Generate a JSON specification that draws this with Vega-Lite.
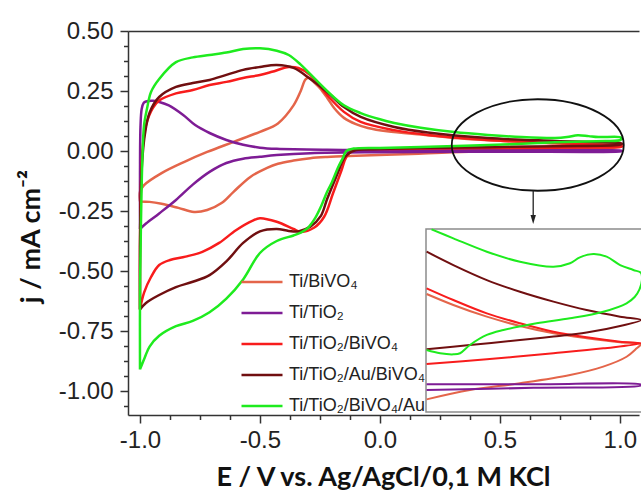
{
  "$schema": "https://vega.github.io/schema/vega-lite/v6.json",
  "width": 511,
  "height": 384,
  "autosize": "none",
  "padding": {"left": 128, "top": 31, "right": 2, "bottom": 81},
  "config": {"view": {"stroke": null}, "font": "Liberation Sans"},
  "datasets": {
    "cv": [
      {"s":"Ti/BiVO₄","o":1,"x":-1.0,"y":-0.21},{"s":"Ti/BiVO₄","o":2,"x":-1.0,"y":-0.17},{"s":"Ti/BiVO₄","o":3,"x":-0.983,"y":-0.142},{"s":"Ti/BiVO₄","o":4,"x":-0.91,"y":-0.092},{"s":"Ti/BiVO₄","o":5,"x":-0.817,"y":-0.046},{"s":"Ti/BiVO₄","o":6,"x":-0.72,"y":-0.004},{"s":"Ti/BiVO₄","o":7,"x":-0.61,"y":0.038},{"s":"Ti/BiVO₄","o":8,"x":-0.5,"y":0.08},{"s":"Ti/BiVO₄","o":9,"x":-0.425,"y":0.115},{"s":"Ti/BiVO₄","o":10,"x":-0.36,"y":0.19},{"s":"Ti/BiVO₄","o":11,"x":-0.33,"y":0.25},{"s":"Ti/BiVO₄","o":12,"x":-0.31,"y":0.298},{"s":"Ti/BiVO₄","o":13,"x":-0.295,"y":0.305},{"s":"Ti/BiVO₄","o":14,"x":-0.275,"y":0.287},{"s":"Ti/BiVO₄","o":15,"x":-0.25,"y":0.262},{"s":"Ti/BiVO₄","o":16,"x":-0.22,"y":0.222},{"s":"Ti/BiVO₄","o":17,"x":-0.19,"y":0.178},{"s":"Ti/BiVO₄","o":18,"x":-0.15,"y":0.138},{"s":"Ti/BiVO₄","o":19,"x":-0.1,"y":0.112},{"s":"Ti/BiVO₄","o":20,"x":-0.05,"y":0.096},{"s":"Ti/BiVO₄","o":21,"x":0.03,"y":0.082},{"s":"Ti/BiVO₄","o":22,"x":0.2,"y":0.066},{"s":"Ti/BiVO₄","o":23,"x":0.31,"y":0.054},{"s":"Ti/BiVO₄","o":24,"x":0.59,"y":0.038},{"s":"Ti/BiVO₄","o":25,"x":0.85,"y":0.029},{"s":"Ti/BiVO₄","o":26,"x":1.0,"y":0.025},{"s":"Ti/BiVO₄","o":27,"x":1.01,"y":0.021},{"s":"Ti/BiVO₄","o":28,"x":1.0,"y":0.017},{"s":"Ti/BiVO₄","o":29,"x":0.9,"y":0.01},{"s":"Ti/BiVO₄","o":30,"x":0.75,"y":0.005},{"s":"Ti/BiVO₄","o":31,"x":0.59,"y":0.002},{"s":"Ti/BiVO₄","o":32,"x":0.3,"y":-0.005},{"s":"Ti/BiVO₄","o":33,"x":0.13,"y":-0.012},{"s":"Ti/BiVO₄","o":34,"x":-0.1,"y":-0.02},{"s":"Ti/BiVO₄","o":35,"x":-0.22,"y":-0.025},{"s":"Ti/BiVO₄","o":36,"x":-0.29,"y":-0.03},{"s":"Ti/BiVO₄","o":37,"x":-0.36,"y":-0.04},{"s":"Ti/BiVO₄","o":38,"x":-0.425,"y":-0.053},{"s":"Ti/BiVO₄","o":39,"x":-0.47,"y":-0.07},{"s":"Ti/BiVO₄","o":40,"x":-0.54,"y":-0.108},{"s":"Ti/BiVO₄","o":41,"x":-0.61,"y":-0.17},{"s":"Ti/BiVO₄","o":42,"x":-0.66,"y":-0.217},{"s":"Ti/BiVO₄","o":43,"x":-0.72,"y":-0.246},{"s":"Ti/BiVO₄","o":44,"x":-0.775,"y":-0.254},{"s":"Ti/BiVO₄","o":45,"x":-0.84,"y":-0.237},{"s":"Ti/BiVO₄","o":46,"x":-0.91,"y":-0.22},{"s":"Ti/BiVO₄","o":47,"x":-0.96,"y":-0.212},{"s":"Ti/BiVO₄","o":48,"x":-1.0,"y":-0.21},
      {"s":"Ti/TiO₂","o":1,"x":-1.0,"y":-0.325},{"s":"Ti/TiO₂","o":2,"x":-1.0,"y":-0.1},{"s":"Ti/TiO₂","o":3,"x":-0.998,"y":0.1},{"s":"Ti/TiO₂","o":4,"x":-0.993,"y":0.175},{"s":"Ti/TiO₂","o":5,"x":-0.985,"y":0.2},{"s":"Ti/TiO₂","o":6,"x":-0.975,"y":0.206},{"s":"Ti/TiO₂","o":7,"x":-0.946,"y":0.209},{"s":"Ti/TiO₂","o":8,"x":-0.92,"y":0.204},{"s":"Ti/TiO₂","o":9,"x":-0.88,"y":0.19},{"s":"Ti/TiO₂","o":10,"x":-0.82,"y":0.15},{"s":"Ti/TiO₂","o":11,"x":-0.77,"y":0.108},{"s":"Ti/TiO₂","o":12,"x":-0.71,"y":0.075},{"s":"Ti/TiO₂","o":13,"x":-0.64,"y":0.046},{"s":"Ti/TiO₂","o":14,"x":-0.57,"y":0.026},{"s":"Ti/TiO₂","o":15,"x":-0.5,"y":0.014},{"s":"Ti/TiO₂","o":16,"x":-0.43,"y":0.009},{"s":"Ti/TiO₂","o":17,"x":-0.22,"y":0.005},{"s":"Ti/TiO₂","o":18,"x":0.0,"y":0.004},{"s":"Ti/TiO₂","o":19,"x":0.5,"y":0.003},{"s":"Ti/TiO₂","o":20,"x":1.0,"y":0.002},{"s":"Ti/TiO₂","o":21,"x":1.01,"y":0.0},{"s":"Ti/TiO₂","o":22,"x":1.0,"y":-0.002},{"s":"Ti/TiO₂","o":23,"x":0.5,"y":-0.003},{"s":"Ti/TiO₂","o":24,"x":0.0,"y":-0.005},{"s":"Ti/TiO₂","o":25,"x":-0.29,"y":-0.009},{"s":"Ti/TiO₂","o":26,"x":-0.43,"y":-0.017},{"s":"Ti/TiO₂","o":27,"x":-0.5,"y":-0.024},{"s":"Ti/TiO₂","o":28,"x":-0.57,"y":-0.032},{"s":"Ti/TiO₂","o":29,"x":-0.64,"y":-0.05},{"s":"Ti/TiO₂","o":30,"x":-0.71,"y":-0.087},{"s":"Ti/TiO₂","o":31,"x":-0.78,"y":-0.14},{"s":"Ti/TiO₂","o":32,"x":-0.85,"y":-0.204},{"s":"Ti/TiO₂","o":33,"x":-0.92,"y":-0.26},{"s":"Ti/TiO₂","o":34,"x":-0.975,"y":-0.302},{"s":"Ti/TiO₂","o":35,"x":-1.0,"y":-0.325},
      {"s":"Ti/TiO₂/BiVO₄","o":1,"x":-1.0,"y":-0.66},{"s":"Ti/TiO₂/BiVO₄","o":2,"x":-1.0,"y":-0.4},{"s":"Ti/TiO₂/BiVO₄","o":3,"x":-0.996,"y":-0.15},{"s":"Ti/TiO₂/BiVO₄","o":4,"x":-0.99,"y":0.0},{"s":"Ti/TiO₂/BiVO₄","o":5,"x":-0.975,"y":0.108},{"s":"Ti/TiO₂/BiVO₄","o":6,"x":-0.946,"y":0.18},{"s":"Ti/TiO₂/BiVO₄","o":7,"x":-0.92,"y":0.21},{"s":"Ti/TiO₂/BiVO₄","o":8,"x":-0.85,"y":0.24},{"s":"Ti/TiO₂/BiVO₄","o":9,"x":-0.78,"y":0.254},{"s":"Ti/TiO₂/BiVO₄","o":10,"x":-0.71,"y":0.275},{"s":"Ti/TiO₂/BiVO₄","o":11,"x":-0.64,"y":0.288},{"s":"Ti/TiO₂/BiVO₄","o":12,"x":-0.57,"y":0.304},{"s":"Ti/TiO₂/BiVO₄","o":13,"x":-0.5,"y":0.317},{"s":"Ti/TiO₂/BiVO₄","o":14,"x":-0.45,"y":0.33},{"s":"Ti/TiO₂/BiVO₄","o":15,"x":-0.38,"y":0.35},{"s":"Ti/TiO₂/BiVO₄","o":16,"x":-0.34,"y":0.346},{"s":"Ti/TiO₂/BiVO₄","o":17,"x":-0.29,"y":0.317},{"s":"Ti/TiO₂/BiVO₄","o":18,"x":-0.22,"y":0.233},{"s":"Ti/TiO₂/BiVO₄","o":19,"x":-0.15,"y":0.163},{"s":"Ti/TiO₂/BiVO₄","o":20,"x":-0.08,"y":0.121},{"s":"Ti/TiO₂/BiVO₄","o":21,"x":0.06,"y":0.087},{"s":"Ti/TiO₂/BiVO₄","o":22,"x":0.2,"y":0.067},{"s":"Ti/TiO₂/BiVO₄","o":23,"x":0.45,"y":0.046},{"s":"Ti/TiO₂/BiVO₄","o":24,"x":0.73,"y":0.033},{"s":"Ti/TiO₂/BiVO₄","o":25,"x":1.0,"y":0.021},{"s":"Ti/TiO₂/BiVO₄","o":26,"x":1.01,"y":0.019},{"s":"Ti/TiO₂/BiVO₄","o":27,"x":1.0,"y":0.017},{"s":"Ti/TiO₂/BiVO₄","o":28,"x":0.73,"y":0.014},{"s":"Ti/TiO₂/BiVO₄","o":29,"x":0.45,"y":0.012},{"s":"Ti/TiO₂/BiVO₄","o":30,"x":0.17,"y":0.01},{"s":"Ti/TiO₂/BiVO₄","o":31,"x":0.0,"y":0.008},{"s":"Ti/TiO₂/BiVO₄","o":32,"x":-0.11,"y":0.004},{"s":"Ti/TiO₂/BiVO₄","o":33,"x":-0.14,"y":-0.025},{"s":"Ti/TiO₂/BiVO₄","o":34,"x":-0.16,"y":-0.08},{"s":"Ti/TiO₂/BiVO₄","o":35,"x":-0.195,"y":-0.175},{"s":"Ti/TiO₂/BiVO₄","o":36,"x":-0.233,"y":-0.275},{"s":"Ti/TiO₂/BiVO₄","o":37,"x":-0.275,"y":-0.32},{"s":"Ti/TiO₂/BiVO₄","o":38,"x":-0.33,"y":-0.337},{"s":"Ti/TiO₂/BiVO₄","o":39,"x":-0.36,"y":-0.325},{"s":"Ti/TiO₂/BiVO₄","o":40,"x":-0.43,"y":-0.295},{"s":"Ti/TiO₂/BiVO₄","o":41,"x":-0.5,"y":-0.28},{"s":"Ti/TiO₂/BiVO₄","o":42,"x":-0.53,"y":-0.29},{"s":"Ti/TiO₂/BiVO₄","o":43,"x":-0.6,"y":-0.33},{"s":"Ti/TiO₂/BiVO₄","o":44,"x":-0.67,"y":-0.383},{"s":"Ti/TiO₂/BiVO₄","o":45,"x":-0.74,"y":-0.42},{"s":"Ti/TiO₂/BiVO₄","o":46,"x":-0.81,"y":-0.44},{"s":"Ti/TiO₂/BiVO₄","o":47,"x":-0.875,"y":-0.454},{"s":"Ti/TiO₂/BiVO₄","o":48,"x":-0.92,"y":-0.475},{"s":"Ti/TiO₂/BiVO₄","o":49,"x":-0.954,"y":-0.525},{"s":"Ti/TiO₂/BiVO₄","o":50,"x":-0.983,"y":-0.59},{"s":"Ti/TiO₂/BiVO₄","o":51,"x":-1.0,"y":-0.66},
      {"s":"Ti/TiO₂/Au/BiVO₄","o":1,"x":-1.0,"y":-0.66},{"s":"Ti/TiO₂/Au/BiVO₄","o":2,"x":-1.0,"y":-0.4},{"s":"Ti/TiO₂/Au/BiVO₄","o":3,"x":-0.996,"y":-0.15},{"s":"Ti/TiO₂/Au/BiVO₄","o":4,"x":-0.99,"y":-0.03},{"s":"Ti/TiO₂/Au/BiVO₄","o":5,"x":-0.98,"y":0.067},{"s":"Ti/TiO₂/Au/BiVO₄","o":6,"x":-0.96,"y":0.16},{"s":"Ti/TiO₂/Au/BiVO₄","o":7,"x":-0.92,"y":0.225},{"s":"Ti/TiO₂/Au/BiVO₄","o":8,"x":-0.85,"y":0.267},{"s":"Ti/TiO₂/Au/BiVO₄","o":9,"x":-0.78,"y":0.283},{"s":"Ti/TiO₂/Au/BiVO₄","o":10,"x":-0.71,"y":0.296},{"s":"Ti/TiO₂/Au/BiVO₄","o":11,"x":-0.64,"y":0.317},{"s":"Ti/TiO₂/Au/BiVO₄","o":12,"x":-0.57,"y":0.338},{"s":"Ti/TiO₂/Au/BiVO₄","o":13,"x":-0.5,"y":0.35},{"s":"Ti/TiO₂/Au/BiVO₄","o":14,"x":-0.43,"y":0.358},{"s":"Ti/TiO₂/Au/BiVO₄","o":15,"x":-0.36,"y":0.346},{"s":"Ti/TiO₂/Au/BiVO₄","o":16,"x":-0.29,"y":0.3},{"s":"Ti/TiO₂/Au/BiVO₄","o":17,"x":-0.22,"y":0.246},{"s":"Ti/TiO₂/Au/BiVO₄","o":18,"x":-0.15,"y":0.183},{"s":"Ti/TiO₂/Au/BiVO₄","o":19,"x":-0.08,"y":0.142},{"s":"Ti/TiO₂/Au/BiVO₄","o":20,"x":0.06,"y":0.1},{"s":"Ti/TiO₂/Au/BiVO₄","o":21,"x":0.2,"y":0.077},{"s":"Ti/TiO₂/Au/BiVO₄","o":22,"x":0.45,"y":0.054},{"s":"Ti/TiO₂/Au/BiVO₄","o":23,"x":0.73,"y":0.042},{"s":"Ti/TiO₂/Au/BiVO₄","o":24,"x":1.0,"y":0.033},{"s":"Ti/TiO₂/Au/BiVO₄","o":25,"x":1.01,"y":0.03},{"s":"Ti/TiO₂/Au/BiVO₄","o":26,"x":1.0,"y":0.026},{"s":"Ti/TiO₂/Au/BiVO₄","o":27,"x":0.73,"y":0.02},{"s":"Ti/TiO₂/Au/BiVO₄","o":28,"x":0.45,"y":0.016},{"s":"Ti/TiO₂/Au/BiVO₄","o":29,"x":0.17,"y":0.012},{"s":"Ti/TiO₂/Au/BiVO₄","o":30,"x":0.0,"y":0.008},{"s":"Ti/TiO₂/Au/BiVO₄","o":31,"x":-0.1,"y":0.004},{"s":"Ti/TiO₂/Au/BiVO₄","o":32,"x":-0.13,"y":-0.01},{"s":"Ti/TiO₂/Au/BiVO₄","o":33,"x":-0.15,"y":-0.03},{"s":"Ti/TiO₂/Au/BiVO₄","o":34,"x":-0.175,"y":-0.09},{"s":"Ti/TiO₂/Au/BiVO₄","o":35,"x":-0.22,"y":-0.2},{"s":"Ti/TiO₂/Au/BiVO₄","o":36,"x":-0.246,"y":-0.27},{"s":"Ti/TiO₂/Au/BiVO₄","o":37,"x":-0.29,"y":-0.315},{"s":"Ti/TiO₂/Au/BiVO₄","o":38,"x":-0.34,"y":-0.335},{"s":"Ti/TiO₂/Au/BiVO₄","o":39,"x":-0.38,"y":-0.333},{"s":"Ti/TiO₂/Au/BiVO₄","o":40,"x":-0.43,"y":-0.325},{"s":"Ti/TiO₂/Au/BiVO₄","o":41,"x":-0.5,"y":-0.335},{"s":"Ti/TiO₂/Au/BiVO₄","o":42,"x":-0.57,"y":-0.383},{"s":"Ti/TiO₂/Au/BiVO₄","o":43,"x":-0.64,"y":-0.46},{"s":"Ti/TiO₂/Au/BiVO₄","o":44,"x":-0.71,"y":-0.517},{"s":"Ti/TiO₂/Au/BiVO₄","o":45,"x":-0.78,"y":-0.545},{"s":"Ti/TiO₂/Au/BiVO₄","o":46,"x":-0.85,"y":-0.567},{"s":"Ti/TiO₂/Au/BiVO₄","o":47,"x":-0.92,"y":-0.6},{"s":"Ti/TiO₂/Au/BiVO₄","o":48,"x":-0.975,"y":-0.633},{"s":"Ti/TiO₂/Au/BiVO₄","o":49,"x":-1.0,"y":-0.66},
      {"s":"Ti/TiO₂/BiVO₄/Au","o":1,"x":-1.0,"y":-0.91},{"s":"Ti/TiO₂/BiVO₄/Au","o":2,"x":-1.0,"y":-0.6},{"s":"Ti/TiO₂/BiVO₄/Au","o":3,"x":-0.996,"y":-0.3},{"s":"Ti/TiO₂/BiVO₄/Au","o":4,"x":-0.99,"y":-0.03},{"s":"Ti/TiO₂/BiVO₄/Au","o":5,"x":-0.983,"y":0.108},{"s":"Ti/TiO₂/BiVO₄/Au","o":6,"x":-0.97,"y":0.18},{"s":"Ti/TiO₂/BiVO₄/Au","o":7,"x":-0.954,"y":0.246},{"s":"Ti/TiO₂/BiVO₄/Au","o":8,"x":-0.92,"y":0.3},{"s":"Ti/TiO₂/BiVO₄/Au","o":9,"x":-0.85,"y":0.37},{"s":"Ti/TiO₂/BiVO₄/Au","o":10,"x":-0.78,"y":0.39},{"s":"Ti/TiO₂/BiVO₄/Au","o":11,"x":-0.71,"y":0.4},{"s":"Ti/TiO₂/BiVO₄/Au","o":12,"x":-0.64,"y":0.41},{"s":"Ti/TiO₂/BiVO₄/Au","o":13,"x":-0.57,"y":0.425},{"s":"Ti/TiO₂/BiVO₄/Au","o":14,"x":-0.5,"y":0.428},{"s":"Ti/TiO₂/BiVO₄/Au","o":15,"x":-0.43,"y":0.418},{"s":"Ti/TiO₂/BiVO₄/Au","o":16,"x":-0.38,"y":0.4},{"s":"Ti/TiO₂/BiVO₄/Au","o":17,"x":-0.33,"y":0.36},{"s":"Ti/TiO₂/BiVO₄/Au","o":18,"x":-0.29,"y":0.32},{"s":"Ti/TiO₂/BiVO₄/Au","o":19,"x":-0.22,"y":0.25},{"s":"Ti/TiO₂/BiVO₄/Au","o":20,"x":-0.15,"y":0.19},{"s":"Ti/TiO₂/BiVO₄/Au","o":21,"x":-0.08,"y":0.158},{"s":"Ti/TiO₂/BiVO₄/Au","o":22,"x":0.0,"y":0.132},{"s":"Ti/TiO₂/BiVO₄/Au","o":23,"x":0.06,"y":0.117},{"s":"Ti/TiO₂/BiVO₄/Au","o":24,"x":0.17,"y":0.097},{"s":"Ti/TiO₂/BiVO₄/Au","o":25,"x":0.31,"y":0.079},{"s":"Ti/TiO₂/BiVO₄/Au","o":26,"x":0.45,"y":0.067},{"s":"Ti/TiO₂/BiVO₄/Au","o":27,"x":0.59,"y":0.058},{"s":"Ti/TiO₂/BiVO₄/Au","o":28,"x":0.73,"y":0.054},{"s":"Ti/TiO₂/BiVO₄/Au","o":29,"x":0.78,"y":0.058},{"s":"Ti/TiO₂/BiVO₄/Au","o":30,"x":0.825,"y":0.066},{"s":"Ti/TiO₂/BiVO₄/Au","o":31,"x":0.87,"y":0.062},{"s":"Ti/TiO₂/BiVO₄/Au","o":32,"x":0.91,"y":0.058},{"s":"Ti/TiO₂/BiVO₄/Au","o":33,"x":1.0,"y":0.058},{"s":"Ti/TiO₂/BiVO₄/Au","o":34,"x":1.01,"y":0.052},{"s":"Ti/TiO₂/BiVO₄/Au","o":35,"x":1.0,"y":0.045},{"s":"Ti/TiO₂/BiVO₄/Au","o":36,"x":0.9,"y":0.041},{"s":"Ti/TiO₂/BiVO₄/Au","o":37,"x":0.73,"y":0.036},{"s":"Ti/TiO₂/BiVO₄/Au","o":38,"x":0.45,"y":0.025},{"s":"Ti/TiO₂/BiVO₄/Au","o":39,"x":0.17,"y":0.017},{"s":"Ti/TiO₂/BiVO₄/Au","o":40,"x":0.0,"y":0.013},{"s":"Ti/TiO₂/BiVO₄/Au","o":41,"x":-0.11,"y":0.01},{"s":"Ti/TiO₂/BiVO₄/Au","o":42,"x":-0.14,"y":0.0},{"s":"Ti/TiO₂/BiVO₄/Au","o":43,"x":-0.155,"y":-0.03},{"s":"Ti/TiO₂/BiVO₄/Au","o":44,"x":-0.175,"y":-0.07},{"s":"Ti/TiO₂/BiVO₄/Au","o":45,"x":-0.2,"y":-0.13},{"s":"Ti/TiO₂/BiVO₄/Au","o":46,"x":-0.22,"y":-0.17},{"s":"Ti/TiO₂/BiVO₄/Au","o":47,"x":-0.245,"y":-0.23},{"s":"Ti/TiO₂/BiVO₄/Au","o":48,"x":-0.27,"y":-0.28},{"s":"Ti/TiO₂/BiVO₄/Au","o":49,"x":-0.3,"y":-0.32},{"s":"Ti/TiO₂/BiVO₄/Au","o":50,"x":-0.33,"y":-0.34},{"s":"Ti/TiO₂/BiVO₄/Au","o":51,"x":-0.36,"y":-0.352},{"s":"Ti/TiO₂/BiVO₄/Au","o":52,"x":-0.43,"y":-0.375},{"s":"Ti/TiO₂/BiVO₄/Au","o":53,"x":-0.5,"y":-0.425},{"s":"Ti/TiO₂/BiVO₄/Au","o":54,"x":-0.57,"y":-0.535},{"s":"Ti/TiO₂/BiVO₄/Au","o":55,"x":-0.64,"y":-0.615},{"s":"Ti/TiO₂/BiVO₄/Au","o":56,"x":-0.71,"y":-0.672},{"s":"Ti/TiO₂/BiVO₄/Au","o":57,"x":-0.78,"y":-0.708},{"s":"Ti/TiO₂/BiVO₄/Au","o":58,"x":-0.85,"y":-0.73},{"s":"Ti/TiO₂/BiVO₄/Au","o":59,"x":-0.92,"y":-0.77},{"s":"Ti/TiO₂/BiVO₄/Au","o":60,"x":-0.96,"y":-0.815},{"s":"Ti/TiO₂/BiVO₄/Au","o":61,"x":-0.98,"y":-0.86},{"s":"Ti/TiO₂/BiVO₄/Au","o":62,"x":-1.0,"y":-0.91}
    ],
    "inset": [
      {"s":"Ti/BiVO₄","o":1,"ix":0.302,"iy":0.0495},{"s":"Ti/BiVO₄","o":2,"ix":0.389,"iy":0.0435},{"s":"Ti/BiVO₄","o":3,"ix":0.498,"iy":0.0371},{"s":"Ti/BiVO₄","o":4,"ix":0.606,"iy":0.032},{"s":"Ti/BiVO₄","o":5,"ix":0.715,"iy":0.028},{"s":"Ti/BiVO₄","o":6,"ix":0.823,"iy":0.0253},{"s":"Ti/BiVO₄","o":7,"ix":0.932,"iy":0.0231},{"s":"Ti/BiVO₄","o":8,"ix":1.0,"iy":0.0222},{"s":"Ti/BiVO₄","o":9,"ix":0.986,"iy":0.0198},{"s":"Ti/BiVO₄","o":10,"ix":0.953,"iy":0.0152},{"s":"Ti/BiVO₄","o":11,"ix":0.877,"iy":0.0098},{"s":"Ti/BiVO₄","o":12,"ix":0.769,"iy":0.0052},{"s":"Ti/BiVO₄","o":13,"ix":0.606,"iy":0.0007},{"s":"Ti/BiVO₄","o":14,"ix":0.443,"iy":-0.003},{"s":"Ti/BiVO₄","o":15,"ix":0.302,"iy":-0.0081},
      {"s":"Ti/TiO₂","o":1,"ix":0.302,"iy":0.0001},{"s":"Ti/TiO₂","o":2,"ix":0.65,"iy":0.0001},{"s":"Ti/TiO₂","o":3,"ix":1.0,"iy":0.0},{"s":"Ti/TiO₂","o":4,"ix":1.0,"iy":-0.0005},{"s":"Ti/TiO₂","o":5,"ix":0.65,"iy":-0.0018},{"s":"Ti/TiO₂","o":6,"ix":0.302,"iy":-0.003},
      {"s":"Ti/TiO₂/BiVO₄","o":1,"ix":0.302,"iy":0.0526},{"s":"Ti/TiO₂/BiVO₄","o":2,"ix":0.389,"iy":0.0462},{"s":"Ti/TiO₂/BiVO₄","o":3,"ix":0.498,"iy":0.0389},{"s":"Ti/TiO₂/BiVO₄","o":4,"ix":0.606,"iy":0.0335},{"s":"Ti/TiO₂/BiVO₄","o":5,"ix":0.715,"iy":0.0289},{"s":"Ti/TiO₂/BiVO₄","o":6,"ix":0.823,"iy":0.0258},{"s":"Ti/TiO₂/BiVO₄","o":7,"ix":0.932,"iy":0.0234},{"s":"Ti/TiO₂/BiVO₄","o":8,"ix":1.0,"iy":0.0225},{"s":"Ti/TiO₂/BiVO₄","o":9,"ix":0.877,"iy":0.0198},{"s":"Ti/TiO₂/BiVO₄","o":10,"ix":0.715,"iy":0.0171},{"s":"Ti/TiO₂/BiVO₄","o":11,"ix":0.498,"iy":0.0138},{"s":"Ti/TiO₂/BiVO₄","o":12,"ix":0.302,"iy":0.0112},
      {"s":"Ti/TiO₂/Au/BiVO₄","o":1,"ix":0.302,"iy":0.0726},{"s":"Ti/TiO₂/Au/BiVO₄","o":2,"ix":0.389,"iy":0.0653},{"s":"Ti/TiO₂/Au/BiVO₄","o":3,"ix":0.498,"iy":0.0571},{"s":"Ti/TiO₂/Au/BiVO₄","o":4,"ix":0.606,"iy":0.0507},{"s":"Ti/TiO₂/Au/BiVO₄","o":5,"ix":0.715,"iy":0.0453},{"s":"Ti/TiO₂/Au/BiVO₄","o":6,"ix":0.823,"iy":0.0407},{"s":"Ti/TiO₂/Au/BiVO₄","o":7,"ix":0.932,"iy":0.0371},{"s":"Ti/TiO₂/Au/BiVO₄","o":8,"ix":1.0,"iy":0.0353},{"s":"Ti/TiO₂/Au/BiVO₄","o":9,"ix":0.932,"iy":0.032},{"s":"Ti/TiO₂/Au/BiVO₄","o":10,"ix":0.823,"iy":0.0284},{"s":"Ti/TiO₂/Au/BiVO₄","o":11,"ix":0.715,"iy":0.0262},{"s":"Ti/TiO₂/Au/BiVO₄","o":12,"ix":0.606,"iy":0.0243},{"s":"Ti/TiO₂/Au/BiVO₄","o":13,"ix":0.443,"iy":0.0216},{"s":"Ti/TiO₂/Au/BiVO₄","o":14,"ix":0.302,"iy":0.0193},
      {"s":"Ti/TiO₂/BiVO₄/Au","o":1,"ix":0.318,"iy":0.0848},{"s":"Ti/TiO₂/BiVO₄/Au","o":2,"ix":0.389,"iy":0.0799},{"s":"Ti/TiO₂/BiVO₄/Au","o":3,"ix":0.498,"iy":0.0726},{"s":"Ti/TiO₂/BiVO₄/Au","o":4,"ix":0.606,"iy":0.0671},{"s":"Ti/TiO₂/BiVO₄/Au","o":5,"ix":0.715,"iy":0.0644},{"s":"Ti/TiO₂/BiVO₄/Au","o":6,"ix":0.769,"iy":0.0663},{"s":"Ti/TiO₂/BiVO₄/Au","o":7,"ix":0.801,"iy":0.0695},{"s":"Ti/TiO₂/BiVO₄/Au","o":8,"ix":0.845,"iy":0.0713},{"s":"Ti/TiO₂/BiVO₄/Au","o":9,"ix":0.888,"iy":0.0699},{"s":"Ti/TiO₂/BiVO₄/Au","o":10,"ix":0.932,"iy":0.0653},{"s":"Ti/TiO₂/BiVO₄/Au","o":11,"ix":0.975,"iy":0.0626},{"s":"Ti/TiO₂/BiVO₄/Au","o":12,"ix":1.0,"iy":0.061},{"s":"Ti/TiO₂/BiVO₄/Au","o":13,"ix":1.003,"iy":0.057},{"s":"Ti/TiO₂/BiVO₄/Au","o":14,"ix":0.995,"iy":0.052},{"s":"Ti/TiO₂/BiVO₄/Au","o":15,"ix":0.98,"iy":0.048},{"s":"Ti/TiO₂/BiVO₄/Au","o":16,"ix":0.953,"iy":0.0444},{"s":"Ti/TiO₂/BiVO₄/Au","o":17,"ix":0.877,"iy":0.0398},{"s":"Ti/TiO₂/BiVO₄/Au","o":18,"ix":0.769,"iy":0.0362},{"s":"Ti/TiO₂/BiVO₄/Au","o":19,"ix":0.66,"iy":0.0335},{"s":"Ti/TiO₂/BiVO₄/Au","o":20,"ix":0.552,"iy":0.0298},{"s":"Ti/TiO₂/BiVO₄/Au","o":21,"ix":0.498,"iy":0.0271},{"s":"Ti/TiO₂/BiVO₄/Au","o":22,"ix":0.443,"iy":0.0216},{"s":"Ti/TiO₂/BiVO₄/Au","o":23,"ix":0.411,"iy":0.0171},{"s":"Ti/TiO₂/BiVO₄/Au","o":24,"ix":0.389,"iy":0.0165},{"s":"Ti/TiO₂/BiVO₄/Au","o":25,"ix":0.346,"iy":0.0171},{"s":"Ti/TiO₂/BiVO₄/Au","o":26,"ix":0.302,"iy":0.0189}
    ]
  },
  "resolve": {
    "scale": {"x": "independent", "y": "independent", "color": "independent"},
    "axis": {"x": "independent", "y": "independent"}
  },
  "layer": [
    {
      "data": {"name": "cv"},
      "mark": {"type": "line", "strokeWidth": 2.5, "interpolate": "catmull-rom"},
      "encoding": {
        "x": {
          "field": "x", "type": "quantitative",
          "scale": {"domain": [-1.05, 1.08], "nice": false, "zero": false},
          "axis": {
            "orient": "bottom",
            "values": [-1.0, -0.875, -0.75, -0.625, -0.5, -0.375, -0.25, -0.125, 0, 0.125, 0.25, 0.375, 0.5, 0.625, 0.75, 0.875, 1.0],
            "labelExpr": "abs(datum.value*2 - round(datum.value*2)) < 0.001 ? replace(format(datum.value, '.1f'), '−', '-') : ''",
            "labelFont": "Liberation Sans", "labelFontSize": 24, "labelColor": "#222", "labelPadding": 5, "labelOverlap": false, "labelFlush": false,
            "tickSize": {"condition": {"test": "abs(datum.value*2 - round(datum.value*2)) < 0.001", "value": 8}, "value": 4.5},
            "tickColor": "#333", "tickWidth": 1.5, "domainColor": "#333", "domainWidth": 1.5, "grid": false,
            "title": "E / V vs. Ag/AgCl/0,1 M KCl",
            "titleFont": "Lato", "titleFontWeight": "bold", "titleFontSize": 27, "titleColor": "#111",
            "titleX": 255, "titleY": 70, "titleAlign": "center", "titleBaseline": "alphabetic"
          }
        },
        "y": {
          "field": "y", "type": "quantitative",
          "scale": {"domain": [-1.1, 0.5], "nice": false, "zero": false},
          "axis": {
            "orient": "left",
            "values": [-1.0625, -1, -0.9375, -0.875, -0.8125, -0.75, -0.6875, -0.625, -0.5625, -0.5, -0.4375, -0.375, -0.3125, -0.25, -0.1875, -0.125, -0.0625, 0, 0.0625, 0.125, 0.1875, 0.25, 0.3125, 0.375, 0.4375, 0.5],
            "labelExpr": "abs(datum.value*4 - round(datum.value*4)) < 0.001 ? replace(format(datum.value, '.2f'), '−', '-') : ''",
            "labelFont": "Liberation Sans", "labelFontSize": 24, "labelColor": "#222", "labelPadding": 7, "labelOverlap": false, "labelFlush": false,
            "tickSize": {"condition": {"test": "abs(datum.value*4 - round(datum.value*4)) < 0.001", "value": 8}, "value": 4.5},
            "tickColor": "#333", "tickWidth": 1.5, "domainColor": "#333", "domainWidth": 1.5, "grid": false,
            "title": "j / mA cm⁻²",
            "titleFont": "Lato", "titleFontWeight": "bold", "titleFontSize": 27, "titleColor": "#111",
            "titleX": -89, "titleY": 205, "titleAngle": -90, "titleAlign": "center", "titleBaseline": "alphabetic"
          }
        },
        "color": {
          "field": "s", "type": "nominal",
          "scale": {
            "domain": ["Ti/BiVO₄", "Ti/TiO₂", "Ti/TiO₂/BiVO₄", "Ti/TiO₂/Au/BiVO₄", "Ti/TiO₂/BiVO₄/Au"],
            "range": ["#E4654A", "#7E1C95", "#F81C1C", "#700F10", "#1EEB1E"]
          },
          "legend": {
            "orient": "none", "legendX": 112, "legendY": 229, "title": null,
            "symbolType": "stroke", "symbolSize": 1681, "symbolStrokeWidth": 2.5,
            "labelFont": "Liberation Sans", "labelFontSize": 18, "labelColor": "#222", "labelOffset": 5,
            "rowPadding": -2.3, "padding": 0, "labelLimit": 300
          }
        },
        "order": {"field": "o", "type": "quantitative"}
      }
    },
    {
      "data": {"name": "inset"},
      "encoding": {
        "x": {"field": "ix", "type": "quantitative", "scale": {"domain": [0.3, 1.0], "range": [298, 513], "nice": false, "zero": false}, "axis": null},
        "y": {"field": "iy", "type": "quantitative", "scale": {"domain": [-0.015, 0.085], "range": [381, 198], "nice": false, "zero": false}, "axis": null}
      },
      "layer": [
        {
          "data": {"values": [{"ix": 0.3, "ix2": 1.03, "iy": -0.015, "iy2": 0.085}]},
          "mark": {"type": "rect", "fill": "white", "stroke": "#8c8c8c", "strokeWidth": 1.5},
          "encoding": {"x2": {"field": "ix2"}, "y2": {"field": "iy2"}}
        },
        {
          "mark": {"type": "line", "strokeWidth": 2, "interpolate": "catmull-rom"},
          "encoding": {
            "color": {
              "field": "s", "type": "nominal",
              "scale": {
                "domain": ["Ti/BiVO₄", "Ti/TiO₂", "Ti/TiO₂/BiVO₄", "Ti/TiO₂/Au/BiVO₄", "Ti/TiO₂/BiVO₄/Au"],
                "range": ["#E4654A", "#7E1C95", "#F81C1C", "#700F10", "#1EEB1E"]
              },
              "legend": null
            },
            "order": {"field": "o", "type": "quantitative"}
          }
        }
      ]
    },
    {
      "data": {"values": [{"x": 0.658, "y": 0.025, "x1": 0.639, "y1": -0.165, "y2": -0.29, "ya": -0.285}]},
      "encoding": {
        "x": {
          "field": "x", "type": "quantitative",
          "scale": {"domain": [-1.05, 1.08], "nice": false, "zero": false},
          "axis": {"orient": "top", "labels": false, "ticks": false, "title": null, "grid": false, "domainColor": "#333", "domainWidth": 1.5}
        },
        "y": {"field": "y", "type": "quantitative", "scale": {"domain": [-1.1, 0.5], "nice": false, "zero": false}, "axis": null}
      },
      "layer": [
        {
          "mark": {"type": "point", "shape": "M -1 0 A 1 0.532 0 1 1 1 0 A 1 0.532 0 1 1 -1 0 Z", "size": 29584, "filled": false, "stroke": "#111", "strokeWidth": 1.8, "opacity": 1}
        },
        {
          "mark": {"type": "rule", "stroke": "#222", "strokeWidth": 1.3},
          "encoding": {"x": {"field": "x1", "type": "quantitative"}, "y": {"field": "y1", "type": "quantitative"}, "y2": {"field": "y2"}}
        },
        {
          "mark": {"type": "point", "shape": "M -0.6 -1 L 0.6 -1 L 0 1 Z", "size": 81, "filled": true, "fill": "#222", "opacity": 1},
          "encoding": {"x": {"field": "x1", "type": "quantitative"}, "y": {"field": "ya", "type": "quantitative"}}
        }
      ]
    }
  ]
}
